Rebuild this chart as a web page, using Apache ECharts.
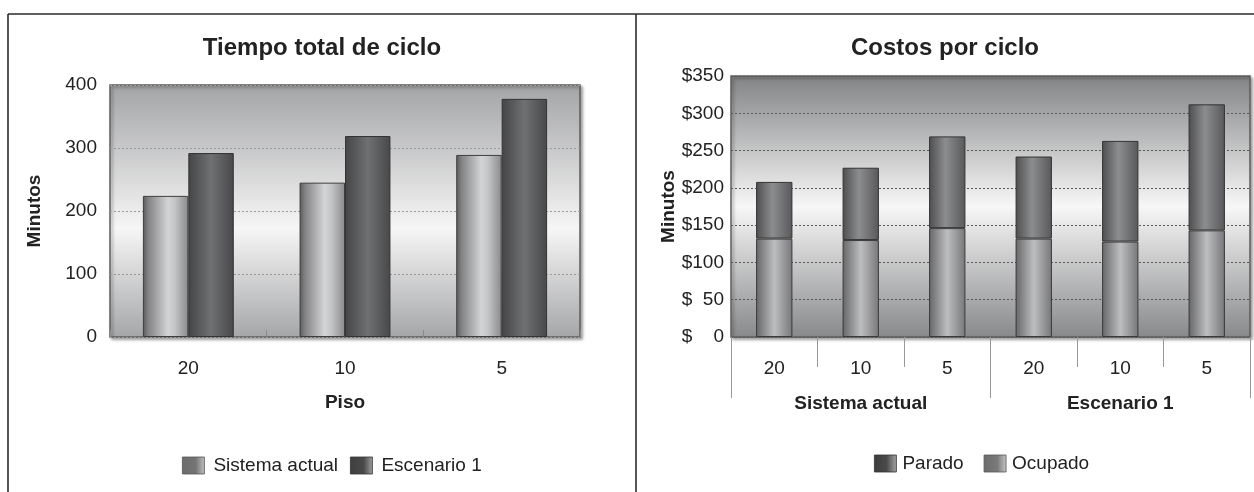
<!DOCTYPE html>
<html>
<head>
<meta charset="utf-8">
<title>Tiempo total de ciclo / Costos por ciclo</title>
<script src="https://cdn.jsdelivr.net/npm/echarts@6/dist/echarts.min.js"></script>
<style>
  html, body { margin: 0; padding: 0; background: #ffffff; }
  #chart { width: 1254px; height: 492px; }
</style>
</head>
<body>
<div id="chart"></div>
<script>
// ---- data ----
const floors = ['20', '10', '5'];
const scenarios = ['Sistema actual', 'Escenario 1'];

// Tiempo total de ciclo (minutos) per floor
const sistemaActual = [224, 245, 289];
const escenario1 = [292, 319, 378];

// Costos por ciclo, one bar per scenario/floor pair (stacked)
const ocupado = [132, 130, 146, 132, 128, 143];
const parado = [76, 97, 123, 110, 135, 169];

// axis ranges
const timeAxis = { min: 0, max: 400, step: 100 };
const costAxis = { min: 0, max: 350, step: 50 };

// ---- styling helpers ----
const FONT = '"Liberation Sans", Arial, sans-serif';
const TXT = '#222222';

function hGrad(stops) {
  return new echarts.graphic.LinearGradient(0, 0, 1, 0,
    stops.map(s => ({ offset: s[0], color: s[1] })));
}
function vGrad(stops) {
  return new echarts.graphic.LinearGradient(0, 0, 0, 1,
    stops.map(s => ({ offset: s[0], color: s[1] })));
}

const fillSistema = hGrad([[0, '#5a5a5a'], [0.12, '#838385'], [0.55, '#d3d4d6'], [0.7, '#c4c5c7'], [1, '#8a8a8c']]);
const fillEscenario = hGrad([[0, '#454547'], [0.5, '#6f7072'], [1, '#48484a']]);
const fillParado = hGrad([[0, '#4e4e50'], [0.45, '#8c8d8f'], [1, '#58585a']]);
const fillOcupado = hGrad([[0, '#666668'], [0.5, '#bdbec0'], [1, '#77777a']]);

const legendSistema = hGrad([[0, '#6c6c6c'], [0.6, '#747474'], [1, '#c2c2c2']]);
const legendEscenario = hGrad([[0, '#3e3e3e'], [0.6, '#4a4a4a'], [1, '#a0a0a0']]);
const legendParado = hGrad([[0, '#3c3c3c'], [0.55, '#4a4a4a'], [1, '#a6a6a6']]);
const legendOcupado = hGrad([[0, '#6c6c6c'], [0.6, '#7a7a7a'], [1, '#c6c6c6']]);

const gridShadow = {
  show: true,
  borderColor: '#5f5f5f',
  borderWidth: 1.5,
  shadowColor: 'rgba(0,0,0,0.35)',
  shadowBlur: 3,
  shadowOffsetX: 2,
  shadowOffsetY: 2
};

const costCategories = [];
scenarios.forEach(s => floors.forEach(f => costCategories.push(s + '|' + f)));

const chart = echarts.init(document.getElementById('chart'), null, { renderer: 'canvas' });

chart.setOption({
  animation: false,
  backgroundColor: '#ffffff',
  textStyle: { fontFamily: FONT, color: TXT },
  title: [
    {
      text: 'Tiempo total de ciclo',
      left: 322, top: 36, textAlign: 'center', padding: 0,
      textStyle: { fontFamily: FONT, fontSize: 24, fontWeight: 'bold', color: TXT }
    },
    {
      text: 'Costos por ciclo',
      left: 945, top: 36, textAlign: 'center', padding: 0,
      textStyle: { fontFamily: FONT, fontSize: 24, fontWeight: 'bold', color: TXT }
    }
  ],
  legend: [
    {
      left: 182, top: 456, padding: 0,
      itemWidth: 22, itemHeight: 17, itemGap: 12,
      textStyle: { fontFamily: FONT, fontSize: 19, color: TXT, padding: [0, 0, 0, 4] },
      data: [
        { name: 'Sistema actual', icon: 'rect', itemStyle: { color: legendSistema, borderColor: '#555', borderWidth: 0.8 } },
        { name: 'Escenario 1', icon: 'rect', itemStyle: { color: legendEscenario, borderColor: '#333', borderWidth: 0.8 } }
      ]
    },
    {
      left: 874, top: 454, padding: 0,
      itemWidth: 22, itemHeight: 17, itemGap: 20,
      textStyle: { fontFamily: FONT, fontSize: 19, color: TXT, padding: [0, 0, 0, 1] },
      data: [
        { name: 'Parado', icon: 'rect', itemStyle: { color: legendParado, borderColor: '#333', borderWidth: 0.8 } },
        { name: 'Ocupado', icon: 'rect', itemStyle: { color: legendOcupado, borderColor: '#555', borderWidth: 0.8 } }
      ]
    }
  ],
  grid: [
    Object.assign({
      left: 110, right: 674, top: 85, bottom: 155,
      backgroundColor: vGrad([[0, '#a3a4a6'], [0.57, '#f6f6f6'], [1, '#a5a6a8']])
    }, gridShadow),
    Object.assign({
      left: 731, right: 4, top: 76, bottom: 155,
      backgroundColor: vGrad([[0, '#828385'], [0.5, '#f7f7f7'], [1, '#88898b']])
    }, gridShadow)
  ],
  xAxis: [
    {
      type: 'category', gridIndex: 0, data: floors,
      name: 'Piso', nameLocation: 'middle', nameGap: 56,
      nameTextStyle: { fontFamily: FONT, fontSize: 19, fontWeight: 'bold', color: TXT },
      axisLine: { show: false },
      axisTick: { show: true, inside: true, length: 7, interval: 0, lineStyle: { color: '#8a8a8a', width: 1 } },
      axisLabel: { interval: 0, margin: 22, fontFamily: FONT, fontSize: 19, color: TXT }
    },
    {
      type: 'category', gridIndex: 1, data: costCategories, position: 'bottom',
      axisLine: { show: false },
      axisTick: { show: true, length: 30, interval: 0, lineStyle: { color: '#999999', width: 1 } },
      axisLabel: {
        interval: 0, margin: 22, fontFamily: FONT, fontSize: 19, color: TXT,
        formatter: v => v.split('|')[1]
      }
    },
    {
      type: 'category', gridIndex: 1, data: scenarios, position: 'bottom', offset: 0,
      axisLine: { show: false },
      axisTick: { show: true, length: 61, interval: 0, lineStyle: { color: '#999999', width: 1 } },
      axisLabel: { interval: 0, margin: 57, fontFamily: FONT, fontSize: 19, fontWeight: 'bold', color: TXT }
    }
  ],
  yAxis: [
    {
      type: 'value', gridIndex: 0,
      min: timeAxis.min, max: timeAxis.max, interval: timeAxis.step,
      name: 'Minutos', nameLocation: 'middle', nameGap: 66,
      nameTextStyle: { fontFamily: FONT, fontSize: 19, fontWeight: 'bold', color: TXT },
      axisLine: { show: false }, axisTick: { show: false },
      axisLabel: { margin: 13, fontFamily: FONT, fontSize: 19, color: TXT },
      splitLine: { show: true, lineStyle: { color: '#9a9a9a', type: [2, 2], width: 1 } }
    },
    {
      type: 'value', gridIndex: 1,
      min: costAxis.min, max: costAxis.max, interval: costAxis.step,
      name: 'Minutos', nameLocation: 'middle', nameGap: 53,
      nameTextStyle: { fontFamily: FONT, fontSize: 19, fontWeight: 'bold', color: TXT },
      axisLine: { show: false }, axisTick: { show: false },
      axisLabel: {
        margin: 7, fontFamily: FONT, fontSize: 19, color: TXT,
        formatter: v => '{d|$}{n|' + v + '}',
        rich: {
          d: { fontFamily: FONT, fontSize: 19, color: TXT, width: 10.6, align: 'left' },
          n: { fontFamily: FONT, fontSize: 19, color: TXT, width: 31.7, align: 'right' }
        }
      },
      splitLine: { show: true, lineStyle: { color: '#5a5a5a', type: [2, 2], width: 1 } }
    }
  ],
  series: [
    {
      name: 'Sistema actual', type: 'bar', xAxisIndex: 0, yAxisIndex: 0,
      data: sistemaActual, barGap: '0%', barCategoryGap: '42%',
      itemStyle: { color: fillSistema, borderColor: '#3e3e3e', borderWidth: 1 }
    },
    {
      name: 'Escenario 1', type: 'bar', xAxisIndex: 0, yAxisIndex: 0,
      data: escenario1, barGap: '0%', barCategoryGap: '42%',
      itemStyle: { color: fillEscenario, borderColor: '#333333', borderWidth: 1 }
    },
    {
      name: 'Ocupado', type: 'bar', xAxisIndex: 1, yAxisIndex: 1, stack: 'costo',
      data: ocupado, barCategoryGap: '58%',
      itemStyle: { color: fillOcupado, borderColor: '#3a3a3a', borderWidth: 1 }
    },
    {
      name: 'Parado', type: 'bar', xAxisIndex: 1, yAxisIndex: 1, stack: 'costo',
      data: parado, barCategoryGap: '58%',
      itemStyle: { color: fillParado, borderColor: '#333333', borderWidth: 1 }
    }
  ],
  graphic: [
    // panel frames
    { type: 'line', shape: { x1: 8, y1: 14, x2: 1254, y2: 14 }, style: { stroke: '#2a2a2a', lineWidth: 1.6 }, z: 100 },
    { type: 'line', shape: { x1: 8, y1: 14, x2: 8, y2: 492 }, style: { stroke: '#2a2a2a', lineWidth: 1.6 }, z: 100 },
    { type: 'line', shape: { x1: 636, y1: 14, x2: 636, y2: 492 }, style: { stroke: '#2a2a2a', lineWidth: 1.6 }, z: 100 }
  ]
});
</script>
</body>
</html>
